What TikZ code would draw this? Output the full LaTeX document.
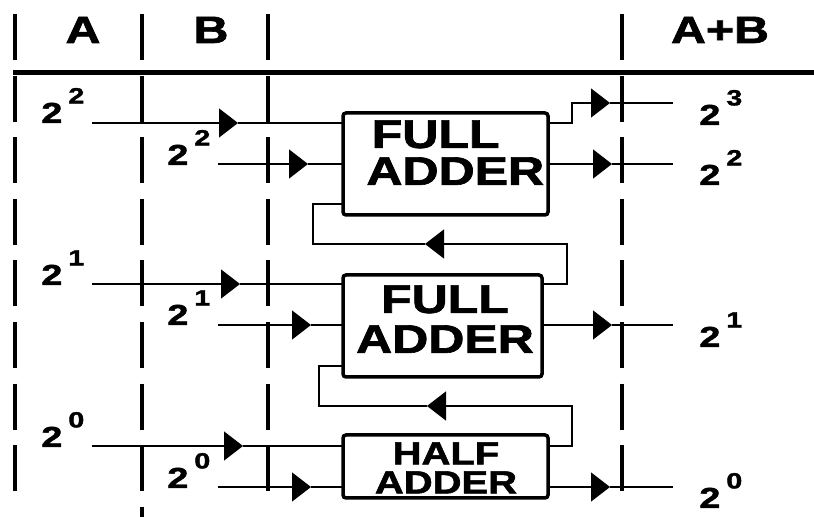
\documentclass[tikz,border=0pt]{standalone}
\usepackage{fontspec}
\setmainfont[BoldFeatures={FakeBold=1.6}]{Liberation Sans}
\usetikzlibrary{arrows.meta}
\newcommand{\stx}[1]{\scalebox{1.25}[1]{#1}}
\newcommand{\pwr}[2]{\scalebox{1.3}[1]{\fontsize{14.5}{14.5}\selectfont #1}\hspace{3pt}\raisebox{9.8pt}{\scalebox{1.3}[1]{\fontsize{11}{11}\selectfont #2}}}
\begin{document}
\begin{tikzpicture}[x=0.5pt,y=-0.5pt,
  wire/.style={line width=0.65pt},
  arr/.style={-{Triangle[length=9.5pt,width=14.5pt]}},
  vdash/.style={line width=2pt,dash pattern=on 23pt off 7.8pt},
  adder/.style={draw,line width=1.75pt,rounded corners=1.5pt,inner sep=0pt,outer sep=0pt},
  hdr/.style={anchor=base,inner sep=0pt,font=\fontsize{19}{19}\selectfont\bfseries},
  lbl/.style={anchor=base west,inner sep=0pt,font=\bfseries},
  boxtxt/.style={inner sep=0pt,font=\fontsize{20}{19}\selectfont\bfseries}]
\fill[white] (0,0) rectangle (814,517);
\useasboundingbox (0,0) rectangle (814,517);
% column separators
\draw[vdash] (15,14) -- (15,491.2);
\draw[vdash] (142,14) -- (142,517);
\draw[vdash] (268,14) -- (268,491.2);
\draw[vdash] (622,14) -- (622,491.2);
\draw[line width=2.5pt] (13,73) -- (814,73);
% headers
\node[hdr] (hA) at (83,43) {\scalebox{1.27}[1]{A}};
\node[hdr] (hB) at (211,43) {\scalebox{1.27}[1]{B}};
\node[hdr] (hS) at (720,43) {\scalebox{1.27}[1]{A+B}};
% adders
\node[adder,minimum width=102.5pt,minimum height=51pt] (fa1) at (445.5,164) {};
\node[adder,minimum width=99.5pt,minimum height=51pt] (fa2) at (442.5,326) {};
\node[adder,minimum width=102.5pt,minimum height=31.5pt] (ha) at (445.5,466.5) {};
\node[boxtxt,anchor=north west,align=left,font=\fontsize{20}{18.5}\selectfont\bfseries] (fa1t) at (366,120) {\hspace*{2.7pt}\stx{FULL}\\\stx{ADDER}};
\node[boxtxt,anchor=north,align=center,font=\fontsize{20}{20}\selectfont\bfseries] (fa2t) at (445,285) {\stx{FULL}\\\stx{ADDER}};
\node[boxtxt,anchor=north,align=center,font=\fontsize{16}{14.5}\selectfont\bfseries] (hat) at (446,442) {\stx{HALF}\\\stx{ADDER}};
% labels
\node[lbl] (la2) at (41,123) {\pwr{2}{2}};
\node[lbl] (lb2) at (167,165) {\pwr{2}{2}};
\node[lbl] (ls3) at (699,125) {\pwr{2}{3}};
\node[lbl] (ls2) at (699,185) {\pwr{2}{2}};
\node[lbl] (la1) at (41,285) {\pwr{2}{1}};
\node[lbl] (lb1) at (167,325) {\pwr{2}{1}};
\node[lbl] (ls1) at (699,347) {\pwr{2}{1}};
\node[lbl] (la0) at (41,447) {\pwr{2}{0}};
\node[lbl] (lb0) at (167,488) {\pwr{2}{0}};
\node[lbl] (ls0) at (699,508) {\pwr{2}{0}};
% coordinates
\coordinate (a2s) at (92,123);  \coordinate (a2t) at (238,123);
\coordinate (b2s) at (218,164); \coordinate (b2t) at (308,164);
\coordinate (cc3) at (572,103); \coordinate (co3t) at (610,103); \coordinate (co3e) at (673,103);
\coordinate (s2t) at (612,164); \coordinate (s2e) at (673,164);
\coordinate (cc1) at (567,244); \coordinate (c1t) at (425,244); \coordinate (ci1) at (313,204);
\coordinate (a1s) at (92,284);  \coordinate (a1t) at (240,284);
\coordinate (b1s) at (218,325); \coordinate (b1t) at (311,325);
\coordinate (s1t) at (612,325); \coordinate (s1e) at (673,325);
\coordinate (cc0) at (572,406); \coordinate (c0t) at (427,406); \coordinate (ci0) at (319,366);
\coordinate (a0s) at (92,446);  \coordinate (a0t) at (243,446);
\coordinate (b0s) at (218,487); \coordinate (b0t) at (311,487);
\coordinate (s0t) at (610,487); \coordinate (s0e) at (673,487);
% row 2^2
\draw[wire,arr] (a2s) -- (a2t); \draw[wire] (a2t) -- (fa1.west |- a2t);
\draw[wire,arr] (b2s) -- (b2t); \draw[wire] (b2t) -- (fa1.west |- b2t);
\draw[wire,arr] (fa1.east |- a2t) -| (cc3) -- (co3t); \draw[wire] (co3t) -- (co3e);
\draw[wire,arr] (fa1.east |- b2t) -- (s2t); \draw[wire] (s2t) -- (s2e);
% carry 2 -> 1
\draw[wire,arr] (fa2.east |- a1t) -| (cc1) -- (c1t);
\draw[wire] (c1t) -| (ci1) -- (fa1.west |- ci1);
% row 2^1
\draw[wire,arr] (a1s) -- (a1t); \draw[wire] (a1t) -- (fa2.west |- a1t);
\draw[wire,arr] (b1s) -- (b1t); \draw[wire] (b1t) -- (fa2.west |- b1t);
\draw[wire,arr] (fa2.east |- b1t) -- (s1t); \draw[wire] (s1t) -- (s1e);
% carry 3 -> 2
\draw[wire,arr] (ha.east |- a0t) -| (cc0) -- (c0t);
\draw[wire] (c0t) -| (ci0) -- (fa2.west |- ci0);
% row 2^0
\draw[wire,arr] (a0s) -- (a0t); \draw[wire] (a0t) -- (ha.west |- a0t);
\draw[wire,arr] (b0s) -- (b0t); \draw[wire] (b0t) -- (ha.west |- b0t);
\draw[wire,arr] (ha.east |- b0t) -- (s0t); \draw[wire] (s0t) -- (s0e);
\end{tikzpicture}
\end{document}
